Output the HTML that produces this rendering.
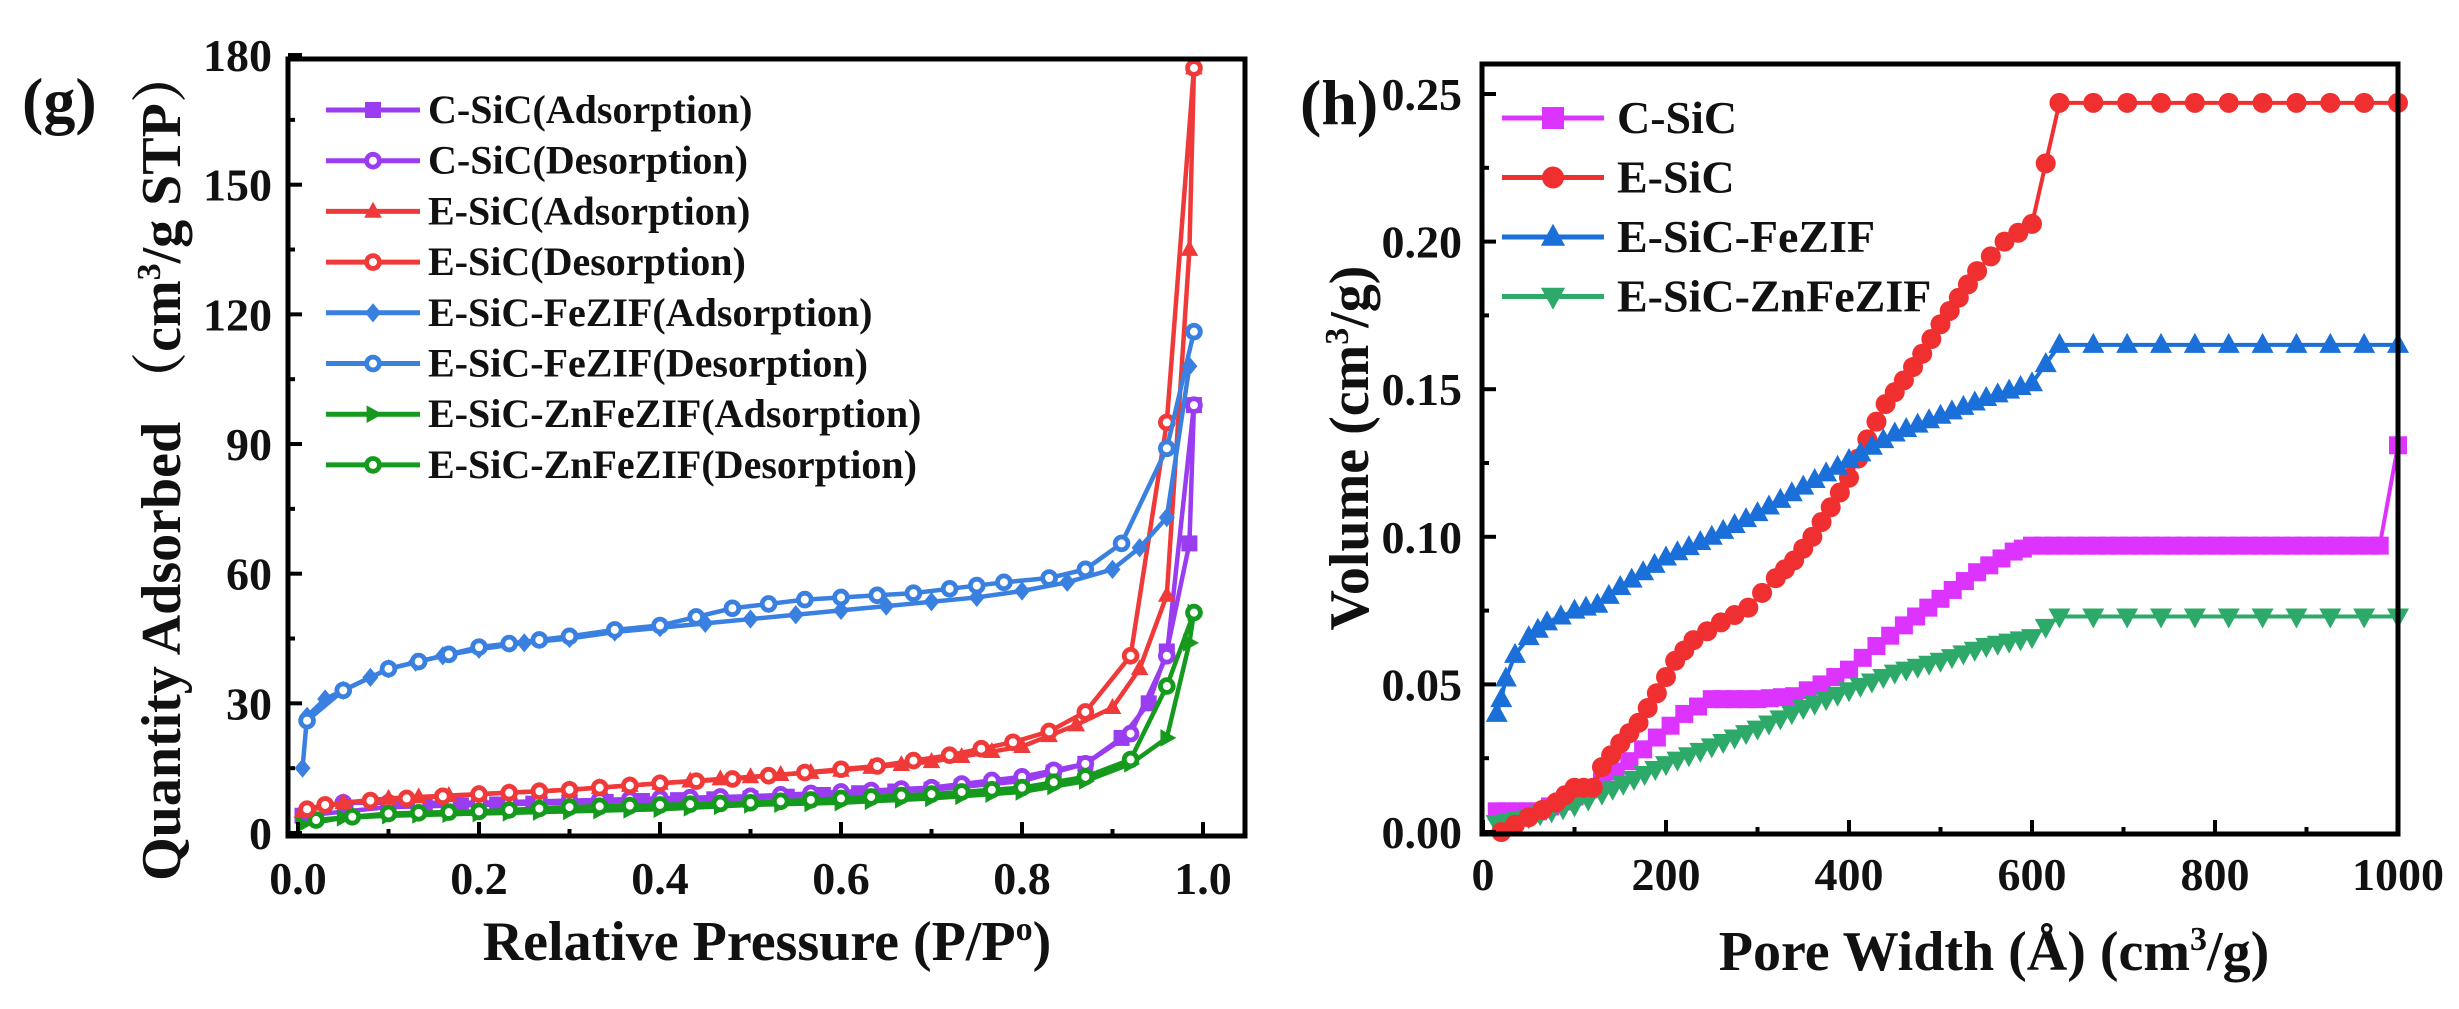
<!DOCTYPE html>
<html><head><meta charset="utf-8"><style>
body{margin:0;background:#fff;width:2459px;height:1004px;overflow:hidden}
svg text{font-family:"Liberation Serif","DejaVu Serif",serif;font-weight:bold;fill:#111}
</style></head><body>
<svg id="s" width="2459" height="1004" xmlns="http://www.w3.org/2000/svg" font-weight="bold">
<rect width="2459" height="1004" fill="#fff"/>
<g id="plots"></g>
<rect x="288" y="59" width="957" height="777" fill="none" stroke="#000" stroke-width="5"/>
<rect x="1482" y="64" width="916" height="770" fill="none" stroke="#000" stroke-width="5"/>
<g id="ticks" stroke="#000" stroke-width="4"></g>
<g id="labels" font-size="46"></g>
<text x="22" y="122" font-size="64">(g)</text>
<text x="1300" y="124" font-size="64">(h)</text>
<text x="767" y="960" font-size="56" text-anchor="middle">Relative Pressure (P/P<tspan dy="-20" font-size="34">o</tspan><tspan dy="20">)</tspan></text>
<text x="1994" y="970" font-size="56" text-anchor="middle">Pore Width (Å) (cm<tspan dy="-20" font-size="34">3</tspan><tspan dy="20">/g)</tspan></text>
<text transform="translate(180,464) rotate(-90)" font-size="56" text-anchor="middle" style="font-family:'Liberation Serif','DejaVu Serif','Noto Serif CJK SC',serif">Quantity Adsorbed （cm<tspan dy="-20" font-size="34">3</tspan><tspan dy="20">/g STP）</tspan></text>
<text transform="translate(1368,448) rotate(-90)" font-size="56" text-anchor="middle">Volume (cm<tspan dy="-20" font-size="34">3</tspan><tspan dy="20">/g)</tspan></text>
<g id="legend" font-size="40"></g>
</svg>
<script>
var NS="http://www.w3.org/2000/svg";
function el(p,t,a){var e=document.createElementNS(NS,t);for(var k in a)e.setAttribute(k,a[k]);document.getElementById(p).appendChild(e);return e;}
function marker(p,type,x,y,c,r){
 if(type=='sq')el(p,'rect',{x:x-r,y:y-r,width:2*r,height:2*r,fill:c});
 else if(type=='ci')el(p,'circle',{cx:x,cy:y,r:r,fill:c});
 else if(type=='oc')el(p,'circle',{cx:x,cy:y,r:r*0.8,fill:'#fff',stroke:c,'stroke-width':r*0.6});
 else if(type=='tu')el(p,'polygon',{points:[x,y-r*1.2,x-r*1.1,y+r*0.8,x+r*1.1,y+r*0.8].join(' '),fill:c});
 else if(type=='td')el(p,'polygon',{points:[x,y+r*1.2,x-r*1.1,y-r*0.8,x+r*1.1,y-r*0.8].join(' '),fill:c});
 else if(type=='di')el(p,'polygon',{points:[x,y-r*1.2,x+r,y,x,y+r*1.2,x-r,y].join(' '),fill:c});
 else if(type=='tr')el(p,'polygon',{points:[x+r*1.2,y,x-r*0.8,y-r*1.1,x-r*0.8,y+r*1.1].join(' '),fill:c});
}
function resX(pts,stepf){var out=[pts[0]];for(var i=1;i<pts.length;i++){var a=pts[i-1],b=pts[i],dx=b[0]-a[0],n=Math.max(1,Math.round(Math.abs(dx)/stepf(a[0])));for(var j=1;j<n;j++){out.push([a[0]+dx*j/n,a[1]+(b[1]-a[1])*j/n]);}out.push(b);}return out;}
function series(d,fx,fy,c,type,r,stepf,w){var pts=d.map(function(q){return[fx(q[0]),fy(q[1])]});
 el('plots','polyline',{points:pts.map(function(p){return p.join(',')}).join(' '),fill:'none',stroke:c,'stroke-width':w});
 resX(pts,stepf).forEach(function(p){marker('plots',type,p[0],p[1],c,r)});}
var LX=function(p){return 298+905*p},LY=function(v){return 833-4.322*v};
var RX=function(w){return 1483+0.915*w},RY=function(v){return 832-2952*v};
var LS=function(x){return 36};
var RS=function(x){return x<RX(625)?11:33};
var P='#9a3cf0',R='#f03a3a',B='#3a80e0',G='#159a1e';
series([[0.005,4],[0.1,6],[0.3,7],[0.5,8],[0.7,10],[0.8,12],[0.87,16],[0.91,22],[0.94,30],[0.96,42],[0.985,67],[0.99,99]],LX,LY,P,'sq',8,LS,4.5);
series([[0.99,99],[0.96,41],[0.92,23],[0.87,16],[0.8,13],[0.7,10.5],[0.6,9.5],[0.5,8.5],[0.4,8],[0.3,7.5],[0.2,7],[0.1,7],[0.05,7]],LX,LY,P,'oc',8,LS,4.5);
series([[0.005,2],[0.05,3.5],[0.1,4],[0.2,4.5],[0.3,5],[0.4,5.5],[0.5,6.5],[0.6,7],[0.7,8],[0.8,9.5],[0.87,12],[0.92,16],[0.96,22],[0.985,44],[0.99,51]],LX,LY,G,'tr',8,LS,4.5);
series([[0.99,51],[0.96,34],[0.92,17],[0.87,13],[0.8,10.5],[0.7,9],[0.6,8],[0.5,7],[0.4,6.5],[0.3,6],[0.2,5],[0.1,4.5],[0.02,3]],LX,LY,G,'oc',8,LS,4.5);
series([[0.005,5],[0.05,7],[0.1,8],[0.2,9],[0.3,10],[0.4,11.5],[0.5,13],[0.6,14.5],[0.7,16.5],[0.8,20],[0.86,25],[0.9,29],[0.93,38],[0.96,55],[0.985,135],[0.99,177]],LX,LY,R,'tu',8,LS,4.5);
series([[0.99,177],[0.96,95],[0.92,41],[0.87,28],[0.83,23.5],[0.79,21],[0.72,18],[0.64,15.5],[0.56,14],[0.48,12.5],[0.4,11.5],[0.3,10],[0.2,9],[0.12,8],[0.08,7.5],[0.03,6.5],[0.01,5.5]],LX,LY,R,'oc',8,LS,4.5);
series([[0.005,15],[0.01,27],[0.03,31],[0.05,33],[0.08,36],[0.1,38],[0.13,39.5],[0.16,41],[0.2,42.5],[0.25,44],[0.3,45],[0.35,46.5],[0.4,47.5],[0.45,48.5],[0.5,49.5],[0.55,50.5],[0.6,51.5],[0.65,52.5],[0.7,53.5],[0.75,54.5],[0.8,56],[0.85,58],[0.9,61],[0.93,66],[0.96,73],[0.985,108]],LX,LY,B,'di',8,LS,4.5);
series([[0.99,116],[0.96,89],[0.91,67],[0.87,61],[0.83,59],[0.78,58],[0.72,56.5],[0.68,55.5],[0.64,55],[0.6,54.5],[0.56,54],[0.52,53],[0.48,52],[0.44,50],[0.4,48],[0.35,47],[0.3,45.5],[0.2,43],[0.1,38],[0.05,33],[0.01,26]],LX,LY,B,'oc',8,LS,4.5);
var m='#dd33ff',r2='#f03030',b2='#1a6fd8',g2='#2daa6a';
series([[15,0.007],[60,0.007],[100,0.012],[130,0.017],[160,0.024],[190,0.032],[220,0.04],[250,0.045],[300,0.045],[340,0.046],[370,0.05],[400,0.055],[430,0.063],[460,0.07],[500,0.079],[540,0.088],[580,0.095],[600,0.097],[980,0.097],[1000,0.131]],RX,RY,m,'sq',9,RS,4);
series([[15,0.003],[50,0.005],[100,0.009],[130,0.013],[200,0.023],[250,0.029],[300,0.035],[350,0.042],[400,0.048],[450,0.054],[500,0.058],[550,0.063],[600,0.066],[630,0.073],[1000,0.073]],RX,RY,g2,'td',10,RS,4);
series([[20,0.0],[50,0.005],[80,0.01],[100,0.015],[120,0.015],[130,0.022],[150,0.03],[170,0.037],[190,0.047],[210,0.058],[230,0.065],[260,0.071],[290,0.076],[320,0.086],[340,0.092],[360,0.1],[380,0.11],[400,0.12],[420,0.133],[440,0.145],[460,0.153],[480,0.162],[500,0.172],[520,0.181],[540,0.19],[570,0.2],[600,0.206],[630,0.247],[1000,0.247]],RX,RY,r2,'ci',10,RS,4);
series([[15,0.04],[20,0.045],[25,0.052],[35,0.06],[50,0.066],[70,0.071],[100,0.075],[125,0.077],[150,0.083],[200,0.093],[250,0.1],[300,0.108],[350,0.117],[400,0.126],[450,0.135],[500,0.141],[550,0.147],[600,0.152],[630,0.165],[1000,0.165]],RX,RY,b2,'tu',10,RS,4);
for(var i=0;i<=10;i++){var x=LX(i/10),big=i%2==0;el('ticks','line',{x1:x,y1:836,x2:x,y2:big?822:829});if(big){var t=el('labels','text',{x:x,y:894,'text-anchor':'middle'});t.textContent=(i/10).toFixed(1);}}
for(var v=0;v<=180;v+=15){var y=LY(v),big=v%30==0;el('ticks','line',{x1:288,y1:y,x2:big?302:295,y2:y});if(big){var t=el('labels','text',{x:272,y:y+16,'text-anchor':'end'});t.textContent=v;}}
for(var w=0;w<=1000;w+=100){var x=RX(w),big=w%200==0;el('ticks','line',{x1:x,y1:834,x2:x,y2:big?820:827});if(big){var t=el('labels','text',{x:x,y:890,'text-anchor':'middle'});t.textContent=w;}}
for(var k=0;k<=10;k++){var v=k*0.025,y=RY(v),big=k%2==0;el('ticks','line',{x1:1482,y1:y,x2:big?1496:1489,y2:y});if(big){var t=el('labels','text',{x:1462,y:y+16,'text-anchor':'end'});t.textContent=v.toFixed(2);}}
var L1=[['C-SiC(Adsorption)',P,'sq'],['C-SiC(Desorption)',P,'oc'],['E-SiC(Adsorption)',R,'tu'],['E-SiC(Desorption)',R,'oc'],['E-SiC-FeZIF(Adsorption)',B,'di'],['E-SiC-FeZIF(Desorption)',B,'oc'],['E-SiC-ZnFeZIF(Adsorption)',G,'tr'],['E-SiC-ZnFeZIF(Desorption)',G,'oc']];
L1.forEach(function(e,i){var y=110+50.7*i;el('legend','line',{x1:326,y1:y,x2:420,y2:y,stroke:e[1],'stroke-width':5});marker('legend',e[2],373,y,e[1],8);var t=el('legend','text',{x:428,y:y+13});t.textContent=e[0];});
var L2=[['C-SiC',m,'sq'],['E-SiC',r2,'ci'],['E-SiC-FeZIF',b2,'tu'],['E-SiC-ZnFeZIF',g2,'td']];
L2.forEach(function(e,i){var y=118+59.5*i;el('legend','line',{x1:1502,y1:y,x2:1604,y2:y,stroke:e[1],'stroke-width':5});marker('legend',e[2],1553,y,e[1],11);var t=el('legend','text',{x:1617,y:y+15,'font-size':46});t.textContent=e[0];});
</script>
</body></html>
